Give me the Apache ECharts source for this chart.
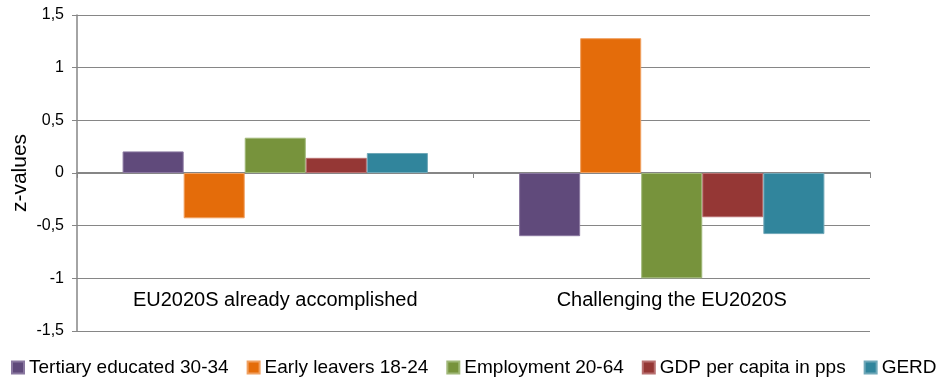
<!DOCTYPE html>
<html>
<head>
<meta charset="utf-8">
<script src="https://cdn.jsdelivr.net/npm/echarts@6/dist/echarts.min.js"></script>
<style>html,body{margin:0;padding:0;background:#fff}#c{width:946px;height:379px}</style>
</head>
<body>
<div id="c"></div>
<script>
var categories = ['EU2020S already accomplished', 'Challenging the EU2020S'];
var seriesNames = ['Tertiary educated 30-34', 'Early leavers 18-24', 'Employment 20-64', 'GDP per capita in pps', 'GERD'];
var tertiary = [0.205, -0.60];
var earlyLeavers = [-0.43, 1.28];
var employment = [0.335, -1.0];
var gdp = [0.144, -0.42];
var gerd = [0.19, -0.58];
var colors = ['#604A7B', '#E46C0A', '#77933C', '#953735', '#31859C'];
var borders = ['#8a78a0', '#f0a060', '#a0b878', '#b87070', '#70a8b8'];
var yTicks = { min: -1.5, max: 1.5, interval: 0.5 };

var values = [tertiary, earlyLeavers, employment, gdp, gerd];
var font = 'Liberation Sans, Arial, sans-serif';
var chart = echarts.init(document.getElementById('c'), null, { renderer: 'canvas' });
chart.setOption({
  animation: false,
  grid: { left: 77, right: 76, top: 15, bottom: 48, containLabel: false, outerBoundsMode: 'none' },
  legend: {
    top: 358, left: 11, width: 935, padding: 0, itemWidth: 12, itemHeight: 12, itemGap: 18, icon: 'rect',
    textStyle: { fontFamily: font, fontSize: 19, color: '#000' },
    data: seriesNames
  },
  xAxis: [{
    type: 'category', data: categories,
    axisLine: { onZero: true, lineStyle: { color: '#868686', width: 2 } },
    axisTick: { show: true, length: 5, lineStyle: { color: '#868686' } },
    axisLabel: { show: false }
  }, {
    type: 'category', data: categories, position: 'bottom',
    axisLine: { show: false, onZero: false }, axisTick: { show: false },
    axisLabel: { inside: true, margin: 21, fontFamily: font, fontSize: 20, color: '#000' }
  }],
  yAxis: {
    type: 'value', min: yTicks.min, max: yTicks.max, interval: yTicks.interval,
    name: 'z-values', nameLocation: 'middle', nameRotate: 90, nameGap: 46, nameMoveOverlap: false,
    nameTextStyle: { fontFamily: font, fontSize: 21, color: '#000' },
    axisLine: { show: true, lineStyle: { color: '#868686', width: 1.5 } },
    axisTick: { show: true, length: 5, lineStyle: { color: '#868686' } },
    axisLabel: { fontFamily: font, fontSize: 16, color: '#000', margin: 13,
      formatter: function (v) { return String(v).replace('.', ','); } },
    splitLine: { show: true, lineStyle: { color: '#868686', width: 1.2 } }
  },
  series: seriesNames.map(function (n, i) {
    return {
      name: n, type: 'bar', data: values[i], xAxisIndex: 0,
      barGap: '0%', barCategoryGap: '23%',
      itemStyle: { color: colors[i], borderColor: borders[i], borderWidth: 1 }
    };
  })
});
</script>
</body>
</html>
